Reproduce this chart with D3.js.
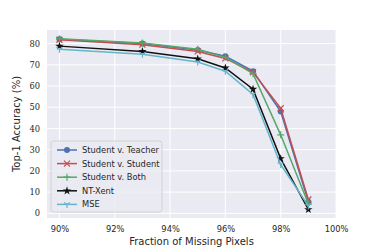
<!DOCTYPE html>
<html>
<head>
<meta charset="utf-8">
<script src="https://cdn.jsdelivr.net/npm/d3@7"></script>
<style>
  body { margin: 0; background: #fff; }
  svg text { fill: #262626; }
</style>
</head>
<body>
<div id="chart"></div>
<script>
var missing = [90, 93, 95, 96, 97, 98, 99];
var studentTeacher = [82.0, 80.0, 77.0, 74.0, 67.0, 48.0, 5.5];
var studentStudent = [81.8, 79.5, 76.3, 73.0, 66.5, 49.5, 6.5];
var studentBoth = [82.3, 80.3, 77.3, 73.5, 65.8, 37.0, 4.5];
var ntXent = [78.8, 76.3, 72.8, 68.5, 58.5, 25.8, 1.8];
var mse = [77.3, 75.0, 71.3, 67.0, 56.0, 23.0, 3.5];
var seriesNames = ['Student v. Teacher', 'Student v. Student', 'Student v. Both', 'NT-Xent', 'MSE'];
var xTicks = [90, 92, 94, 96, 98, 100];
var yTicks = [0, 10, 20, 30, 40, 50, 60, 70, 80];

var W = 374, H = 249;
var margins = {left: 47, right: 38, top: 30, bottom: 31};
var w = W - margins.left - margins.right,
  h = H - margins.top - margins.bottom;

var series = [
  {name: seriesNames[0], vals: studentTeacher, color: '#4C72B0', marker: 'circle'},
  {name: seriesNames[1], vals: studentStudent, color: '#C44E52', marker: 'x'},
  {name: seriesNames[2], vals: studentBoth, color: '#55A868', marker: 'plus'},
  {name: seriesNames[3], vals: ntXent, color: '#111111', marker: 'star'},
  {name: seriesNames[4], vals: mse, color: '#64B5CD', marker: 'tri'}
];

var svg = d3.select('#chart').append('svg')
  .attr('width', W).attr('height', H)
  .append('g')
  .attr('transform', 'translate(' + margins.left + ',' + margins.top + ')');

var xScale = d3.scaleLinear().domain([89.55, 100]).range([0, w]);
var yScale = d3.scaleLinear().domain([-2.2, 86.4]).range([h, 0]);

svg.append('rect').attr('width', w).attr('height', h).attr('fill', '#EAEAF2');

// grid
svg.selectAll('.vgrid').data(xTicks).enter().append('line')
  .attr('x1', function(d) {return xScale(d);}).attr('x2', function(d) {return xScale(d);})
  .attr('y1', 0).attr('y2', h)
  .attr('stroke', '#fff').attr('stroke-width', 1);
svg.selectAll('.hgrid').data(yTicks).enter().append('line')
  .attr('y1', function(d) {return yScale(d);}).attr('y2', function(d) {return yScale(d);})
  .attr('x1', 0).attr('x2', w)
  .attr('stroke', '#fff').attr('stroke-width', 1);

// axes (no lines, only labels)
var xAxis = d3.axisBottom(xScale).tickValues(xTicks).tickSize(0).tickPadding(8)
  .tickFormat(function(d) {return d + '%';});
var gx = svg.append('g').attr('transform', 'translate(0,' + h + ')').call(xAxis);
gx.select('.domain').remove();
gx.selectAll('text').attr('font-family', 'DejaVu Sans').attr('font-size', 8.3).attr('fill', '#262626');

var yAxis = d3.axisLeft(yScale).tickValues(yTicks).tickSize(0).tickPadding(7);
var gy = svg.append('g').call(yAxis);
gy.select('.domain').remove();
gy.selectAll('text').attr('font-family', 'DejaVu Serif').attr('font-size', 8.3).attr('fill', '#262626');

svg.append('text')
  .text('Fraction of Missing Pixels')
  .attr('x', w / 2).attr('y', h + 27)
  .attr('text-anchor', 'middle')
  .attr('font-family', 'DejaVu Sans').attr('font-size', 10);

svg.append('text')
  .text('Top-1 Accuracy (%)')
  .attr('transform', 'translate(' + (-27) + ',' + (h / 2) + ') rotate(-90)')
  .attr('text-anchor', 'middle')
  .attr('font-family', 'DejaVu Sans').attr('font-size', 10);

function drawMarker(g, type, color) {
  if (type === 'circle') {
    g.append('circle').attr('r', 3).attr('fill', color);
  } else if (type === 'x') {
    g.append('path').attr('d', 'M-3,-3L3,3M-3,3L3,-3').attr('stroke', color).attr('stroke-width', 1.2);
  } else if (type === 'plus') {
    g.append('path').attr('d', 'M-3.5,0L3.5,0M0,-3.5L0,3.5').attr('stroke', color).attr('stroke-width', 1.2);
  } else if (type === 'star') {
    g.append('path').attr('d', d3.symbol().type(d3.symbolStar).size(22)()).attr('fill', color);
  } else if (type === 'tri') {
    g.append('path').attr('d', 'M0,0L0,3.5M0,0L-3,-2M0,0L3,-2').attr('stroke', color).attr('stroke-width', 1.2);
  }
}

var line = d3.line()
  .x(function(d, i) {return xScale(missing[i]);})
  .y(function(d) {return yScale(d);});

series.forEach(function(s) {
  var g = svg.append('g');
  g.append('path').datum(s.vals)
    .attr('d', line)
    .attr('fill', 'none')
    .attr('stroke', s.color)
    .attr('stroke-width', 1.5);
  s.vals.forEach(function(v, i) {
    var m = g.append('g').attr('transform', 'translate(' + xScale(missing[i]) + ',' + yScale(v) + ')');
    drawMarker(m, s.marker, s.color);
  });
});

// legend
var leg = svg.append('g').attr('transform', 'translate(4,111)');
leg.append('rect')
  .attr('width', 111).attr('height', 71).attr('rx', 2.5)
  .attr('fill', '#EAEAF2').attr('fill-opacity', 0.8)
  .attr('stroke', '#cccccc').attr('stroke-width', 0.8);
series.forEach(function(s, i) {
  var y = 9 + i * 13.6;
  leg.append('line').attr('x1', 6).attr('x2', 26).attr('y1', y).attr('y2', y)
    .attr('stroke', s.color).attr('stroke-width', 1.5);
  var m = leg.append('g').attr('transform', 'translate(16,' + y + ')');
  drawMarker(m, s.marker, s.color);
  leg.append('text').text(s.name)
    .attr('x', 31).attr('y', y).attr('dy', '0.35em')
    .attr('font-family', 'DejaVu Sans').attr('font-size', 8.3);
});
</script>
</body>
</html>
